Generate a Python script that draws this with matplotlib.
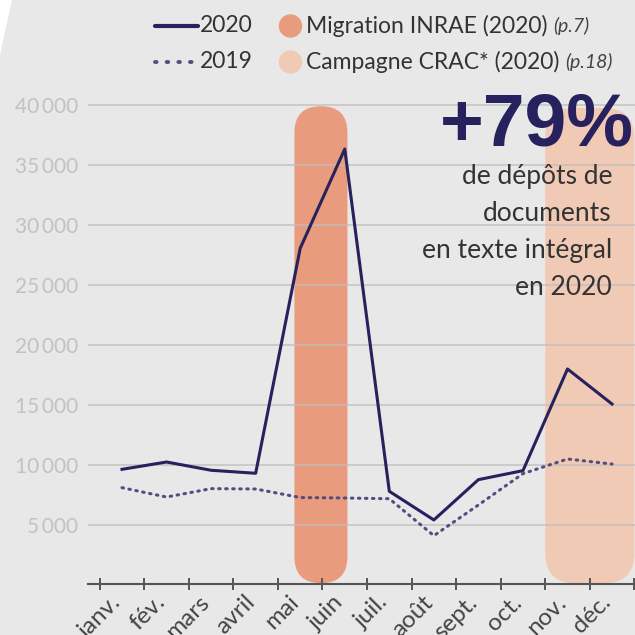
import matplotlib.pyplot as plt
from matplotlib.patches import FancyBboxPatch, Circle, Polygon
from matplotlib.lines import Line2D
import numpy as np

months = ['janv.', 'fév.', 'mars', 'avril', 'mai', 'juin',
          'juil.', 'août', 'sept.', 'oct.', 'nov.', 'déc.']
depots_2020 = [9640, 10250, 9560, 9310, 28060, 36330,
               7810, 5420, 8780, 9530, 18000, 15080]
depots_2019 = [8110, 7330, 8030, 8000, 7290, 7250,
               7190, 4110, 6670, 9280, 10500, 10080]
y_ticks = [5000, 10000, 15000, 20000, 25000, 30000, 35000, 40000]
y_labels = ['5\u2009000', '10\u2009000', '15\u2009000', '20\u2009000',
            '25\u2009000', '30\u2009000', '35\u2009000', '40\u2009000']

BG = '#e8e8e8'
NAVY = '#27215d'
PURPLE = '#554c80'
MIGR = '#e99b7e'
CRAC = '#f0cab4'

plt.rcParams['font.family'] = ['Lato', 'DejaVu Sans']

fig = plt.figure(figsize=(6.35, 6.35), dpi=100, facecolor=BG)
# white wedge top-left
fig.patches.append(Polygon([(0, 1), (12 / 635, 1), (0, 1 - 55 / 635)],
                           closed=True, transform=fig.transFigure,
                           facecolor='white', edgecolor='none'))

ax = fig.add_axes([87.7 / 635, 50 / 635, 551.1 / 635, 504 / 635])
ax.set_facecolor('none')
ax.set_xlim(-0.77, 11.6)
ax.set_ylim(0, 42000)

# x px per unit / y px per unit
aspect = 44.55 / 0.012

def band(x0, x1, y0, y1, r, color):
    p = FancyBboxPatch((x0, y0), x1 - x0, y1 - y0,
                       boxstyle=f'round,pad=0,rounding_size={r}',
                       mutation_aspect=aspect, facecolor=color,
                       edgecolor='none', zorder=1)
    ax.add_patch(p)

band(3.87, 5.06, 150, 39900, 0.595, MIGR)
band(9.5, 11.5, 150, 39750, 0.67, CRAC)

for v in y_ticks:
    ax.axhline(v, color='#bdbdbd', lw=1.2, alpha=0.8, zorder=1.5)

x = np.arange(len(months))
ax.plot(x, depots_2019, color=PURPLE, lw=2.2, ls=(0, (0.5, 1.8)),
        dash_capstyle='round', zorder=3)
ax.plot(x, depots_2020, color=NAVY, lw=2.2, zorder=4)

for s in ['top', 'right', 'left']:
    ax.spines[s].set_visible(False)
ax.spines['bottom'].set_position(('data', 80))
ax.spines['bottom'].set_color('#555555')
ax.spines['bottom'].set_linewidth(1.5)

ax.set_xticks(np.arange(-0.5, 12, 1), minor=True)
ax.tick_params(axis='x', which='minor', direction='inout', length=9,
               width=1.4, color='#555555')
ax.set_xticks(x)
ax.set_xticklabels(months, rotation=45, ha='right', va='baseline',
                   rotation_mode='anchor', fontsize=17.5, color='#444444')
ax.tick_params(axis='x', which='major', length=0, pad=14)

ax.set_yticks(y_ticks)
ax.set_yticklabels(y_labels, fontsize=15, color='#c2c2c2')
ax.tick_params(axis='y', length=0, pad=7)

# big annotation
fig.text(634 / 635, 1 - 126 / 635, '+79%', fontsize=54, fontweight='bold',
         color=NAVY, ha='right', va='center', family=['Liberation Sans'],
         zorder=5)
note = ['de dépôts de', 'documents', 'en texte intégral', 'en 2020']
for i, line in enumerate(note):
    fig.text(612 / 635, 1 - (184 + 37 * i) / 635, line, fontsize=19,
             color='#333333', ha='right', va='baseline', zorder=5)

# legend
fig.canvas.draw()
rend = fig.canvas.get_renderer()
rows = [(26, '2020', '-', NAVY, MIGR, 'Migration INRAE (2020)', '(p.7)'),
        (62, '2019', (0, (0.4, 2.6)), PURPLE, CRAC, 'Campagne CRAC* (2020)', '(p.18)')]
for ypx, yr, ls, lc, cc, lab, page in rows:
    yf = 1 - ypx / 635
    fig.lines.append(Line2D([155 / 635, 198 / 635], [yf, yf], color=lc,
                            lw=3 if ls == '-' else 2.8, ls=ls,
                            solid_capstyle='round', dash_capstyle='round',
                            transform=fig.transFigure))
    fig.text(200 / 635, yf, yr, fontsize=16.5, color='#333333',
             ha='left', va='center')
    fig.patches.append(Circle((290.5, 635 - ypx), 11, color=cc,
                              transform=None))
    t = fig.text(306 / 635, yf, lab, fontsize=16.5, color='#333333',
                 ha='left', va='center')
    bb = t.get_window_extent(rend)
    fig.text((bb.x1 + 6) / 635, yf, page, fontsize=14, style='italic',
             color='#444444', ha='left', va='center')

fig.savefig('out.png', dpi=100, facecolor=BG)
